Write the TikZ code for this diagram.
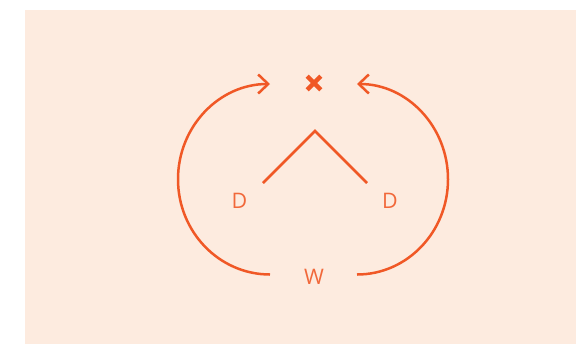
\documentclass[tikz,border=0pt]{standalone}
\usepackage{fontspec}
\setmainfont{Open Sans}
\usetikzlibrary{arrows.meta}
\definecolor{bgpeach}{RGB}{253,235,223}
\definecolor{lineor}{RGB}{240,88,38}
\definecolor{textor}{RGB}{241,104,58}
\tikzset{
  lbl/.style={text=textor, font=\fontsize{21.5}{25}\selectfont, inner sep=0pt, anchor=center},
  conn/.style={draw=lineor, line width=2.5bp},
  arr/.style={conn, -{Straight Barb[length=10bp,width=19bp,line width=2.5bp]}},
  crossmark/.style={draw=lineor, line width=4.5bp},
}
\begin{document}
\begin{tikzpicture}[x=1bp,y=-1bp]
\useasboundingbox (0,0) rectangle (576,344);
\fill[bgpeach] (24.5,9.5) rectangle (576,344);
% nodes
\node[lbl] (dl) at (239.5,200.5) {D};
\node[lbl] (dr) at (390,200.5) {D};
\node[lbl] (w) at (314,276.5) {W};
\coordinate (x) at (314,83);
\coordinate (apex) at (315,131);
\coordinate (cl) at (263,183);
\coordinate (cr) at (367,183);
\coordinate (wl) at (270,274.5);
\coordinate (wr) at (357,274.5);
% cross
\draw[crossmark] ([shift={(-6.8,-6.8)}]x) -- ([shift={(6.8,6.8)}]x);
\draw[crossmark] ([shift={(-6.8,6.8)}]x) -- ([shift={(6.8,-6.8)}]x);
% caret
\draw[conn] (cl) -- (apex) -- (cr);
% arrows
\draw[arr] (wl) arc[start angle=90, end angle=270, x radius=92, y radius=95.25];
\draw[arr] (wr) arc[start angle=90, end angle=-90, x radius=91, y radius=95.25];
\end{tikzpicture}
\end{document}
